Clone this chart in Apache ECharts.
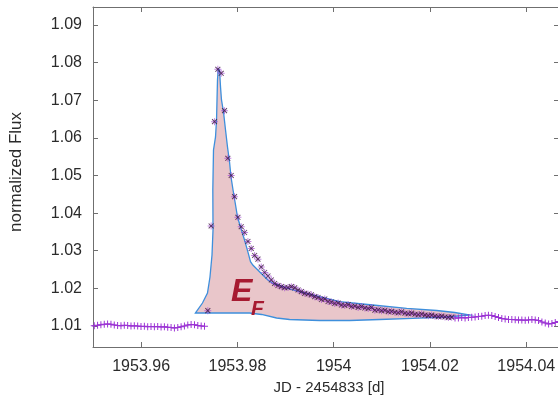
<!DOCTYPE html>
<html>
<head>
<meta charset="utf-8">
<script src="https://cdn.jsdelivr.net/npm/echarts@6/dist/echarts.min.js"></script>
<style>
  html, body { margin: 0; padding: 0; background: #fff; overflow: hidden; }
  #chart { width: 562px; height: 396px; }
</style>
</head>
<body>
<div id="chart"></div>
<script>
// Quiescent light curve before the flare (JD - 2454833, normalized flux)
const preT = [1953.94956, 1953.95026, 1953.95095, 1953.95164, 1953.95234, 1953.95303, 1953.95373, 1953.95442, 1953.95511, 1953.95581,
  1953.95650, 1953.95720, 1953.95789, 1953.95858, 1953.95928, 1953.95997, 1953.96067, 1953.96136, 1953.96205, 1953.96275,
  1953.96344, 1953.96414, 1953.96483, 1953.96552, 1953.96622, 1953.96691, 1953.96761, 1953.96830, 1953.96899, 1953.96969,
  1953.97038, 1953.97108, 1953.97177, 1953.97247, 1953.97316];
const preF = [1.01000, 1.01005, 1.01019, 1.01032, 1.01045, 1.01053, 1.01048, 1.01027, 1.01013, 1.01005,
  1.01019, 1.01013, 1.01000, 1.01005, 1.01000, 1.00987, 1.00992, 1.00981, 1.00987, 1.00979,
  1.00984, 1.00973, 1.00979, 1.00968, 1.00960, 1.00947, 1.00960, 1.00979, 1.01000, 1.01027,
  1.01040, 1.01032, 1.01013, 1.01000, 1.00992];

// Flare points
const flareT = [1953.97385, 1953.97454, 1953.97524, 1953.97593, 1953.97663, 1953.97732, 1953.97801, 1953.97871, 1953.97940, 1953.98010,
  1953.98079, 1953.98148, 1953.98218, 1953.98287, 1953.98357, 1953.98426, 1953.98495, 1953.98565, 1953.98634, 1953.98704,
  1953.98773, 1953.98842, 1953.98912, 1953.98981, 1953.99051, 1953.99120, 1953.99189, 1953.99259, 1953.99328, 1953.99398,
  1953.99467, 1953.99536, 1953.99606, 1953.99675, 1953.99745, 1953.99814, 1953.99883, 1953.99953, 1954.00022, 1954.00092,
  1954.00161, 1954.00230, 1954.00300, 1954.00369, 1954.00439, 1954.00508, 1954.00577, 1954.00647, 1954.00716, 1954.00786,
  1954.00855, 1954.00924, 1954.00994, 1954.01063, 1954.01133, 1954.01202, 1954.01271, 1954.01341, 1954.01410, 1954.01480,
  1954.01549, 1954.01618, 1954.01688, 1954.01757, 1954.01827, 1954.01896, 1954.01965, 1954.02035, 1954.02104, 1954.02174,
  1954.02243, 1954.02312, 1954.02382, 1954.02451];
const flareF = [1.01407, 1.03658, 1.06430, 1.07823, 1.07717, 1.06723, 1.05458, 1.05000, 1.04437, 1.03889,
  1.03639, 1.03485, 1.03246, 1.03060, 1.02874, 1.02776, 1.02568, 1.02422, 1.02329, 1.02223,
  1.02130, 1.02076, 1.02045, 1.02018, 1.02023, 1.02045, 1.02015, 1.01957, 1.01912, 1.01869,
  1.01851, 1.01829, 1.01779, 1.01758, 1.01704, 1.01718, 1.01651, 1.01638, 1.01598, 1.01611,
  1.01558, 1.01545, 1.01571, 1.01518, 1.01532, 1.01492, 1.01518, 1.01478, 1.01465, 1.01492,
  1.01420, 1.01432, 1.01405, 1.01419, 1.01380, 1.01392, 1.01365, 1.01352, 1.01378, 1.01340,
  1.01326, 1.01344, 1.01312, 1.01300, 1.01318, 1.01288, 1.01275, 1.01290, 1.01262, 1.01250,
  1.01262, 1.01240, 1.01228, 1.01235];

// Light curve after the flare
const postT = [1954.02520, 1954.02590, 1954.02659, 1954.02729, 1954.02798, 1954.02867, 1954.02937, 1954.03006, 1954.03076, 1954.03145,
  1954.03214, 1954.03284, 1954.03353, 1954.03423, 1954.03492, 1954.03561, 1954.03631, 1954.03700, 1954.03770, 1954.03839,
  1954.03908, 1954.03978, 1954.04047, 1954.04117, 1954.04186, 1954.04255, 1954.04325, 1954.04394, 1954.04464, 1954.04533,
  1954.04602, 1954.04672];
const postF = [1.01213, 1.01213, 1.01226, 1.01213, 1.01226, 1.01232, 1.01239, 1.01253, 1.01258, 1.01279,
  1.01287, 1.01279, 1.01253, 1.01226, 1.01200, 1.01186, 1.01173, 1.01173, 1.01165, 1.01160,
  1.01160, 1.01152, 1.01160, 1.01173, 1.01160, 1.01147, 1.01107, 1.01080, 1.01054, 1.01067,
  1.01093, 1.01120];

// Outline of the flare energy region E_F (closed polygon)
const envX = [1953.97129, 1953.97274, 1953.97378, 1953.97430, 1953.97472, 1953.97493, 1953.97489, 1953.97503, 1953.97545, 1953.97566,
  1953.97576, 1953.97586, 1953.97601, 1953.97628, 1953.97649, 1953.97669, 1953.97711, 1953.97753, 1953.97794, 1953.97836,
  1953.97867, 1953.97909, 1953.97961, 1953.98002, 1953.98064, 1953.98148, 1953.98216, 1953.98272, 1953.98320, 1953.98424,
  1953.98528, 1953.98632, 1953.98736, 1953.98944, 1953.99152, 1953.99430, 1953.99707, 1954.00123, 1954.00809, 1954.01516,
  1954.02139, 1954.02514, 1954.02825, 1954.02347, 1954.01640, 1954.00954, 1954.00331, 1953.99707, 1953.99083, 1953.98813,
  1953.98501, 1953.98252, 1953.97836, 1953.97420];
const envY = [1.01346, 1.01611, 1.01877, 1.02302, 1.02887, 1.03552, 1.04615, 1.05678, 1.06024, 1.06476,
  1.07007, 1.07539, 1.07831, 1.07805, 1.07353, 1.07007, 1.06688, 1.06210, 1.05758, 1.05359,
  1.04960, 1.04615, 1.04216, 1.03897, 1.03631, 1.03286, 1.02975, 1.02709, 1.02621, 1.02489,
  1.02356, 1.02223, 1.02135, 1.02045, 1.01957, 1.01869, 1.01779, 1.01646, 1.01558, 1.01470,
  1.01412, 1.01359, 1.01292, 1.01239, 1.01205, 1.01173, 1.01146, 1.01146, 1.01173, 1.01213,
  1.01306, 1.01346, 1.01346, 1.01346];

const xRange = [1953.95, 1954.0468];
const yRange = [1.00442, 1.09478];

const zip = (a, b) => a.map((v, i) => [v, b[i]]);
const PLUS = 'path://M0,4.3H10V5.7H0Z M4.3,0H5.7V10H4.3Z';
const purple = '#9b33d4';
const dark = '#3a1240';
const frame = '#6f6f6f';
const textColor = '#2b2b2b';
const fontFamily = '"Liberation Sans", Arial, Helvetica, sans-serif';
const fmt = v => String(Math.round(v * 100) / 100);

const chart = echarts.init(document.getElementById('chart'), null, { renderer: 'canvas' });

function axisBase(extra) {
  return Object.assign({
    type: 'value',
    axisLine: { show: true, onZero: false, lineStyle: { color: frame, width: 1 } },
    axisTick: { show: true, inside: true, length: 5, lineStyle: { color: frame, width: 1 } },
    splitLine: { show: false },
    axisLabel: { show: false }
  }, extra);
}

const tickLabel = {
  show: true, color: textColor, fontSize: 16, fontFamily: fontFamily,
  showMinLabel: false, showMaxLabel: false, formatter: fmt
};

chart.setOption({
  animation: false,
  backgroundColor: '#ffffff',
  grid: { left: 93, top: 7, width: 466, height: 340, containLabel: false, outerBoundsMode: 'none' },
  xAxis: [
    axisBase({
      position: 'bottom', min: xRange[0], max: xRange[1], splitNumber: 5,
      axisLabel: Object.assign({ margin: 12 }, tickLabel),
      name: 'JD - 2454833 [d]', nameLocation: 'middle', nameGap: 27,
      nameTextStyle: { color: textColor, fontSize: 15, fontFamily: fontFamily, padding: [0, 0, 0, 6] }
    }),
    axisBase({ position: 'top', min: xRange[0], max: xRange[1], splitNumber: 5 })
  ],
  yAxis: [
    axisBase({
      position: 'left', min: yRange[0], max: yRange[1], splitNumber: 9,
      axisLabel: Object.assign({ margin: 11 }, tickLabel),
      name: 'normalized Flux', nameLocation: 'middle', nameGap: 68,
      nameTextStyle: { color: textColor, fontSize: 17, fontFamily: fontFamily, padding: [0, 0, 0, 10] }
    }),
    axisBase({ position: 'right', min: yRange[0], max: yRange[1], splitNumber: 9 })
  ],
  series: [
    {
      type: 'custom',
      name: 'E_F region',
      data: [[envX[0], envY[0]]],
      z: 1,
      renderItem: function (params, api) {
        const pts = envX.map((x, i) => api.coord([x, envY[i]]));
        return {
          type: 'polygon',
          shape: { points: pts },
          style: { fill: '#e9c6ca', stroke: '#3e8fdc', lineWidth: 1.3 }
        };
      }
    },
    {
      type: 'line', name: 'pre', data: zip(preT, preF), z: 3,
      lineStyle: { color: purple, width: 1 },
      itemStyle: { color: purple },
      symbol: PLUS, symbolSize: 7, showAllSymbol: true
    },
    {
      type: 'line', name: 'post', data: zip(postT, postF), z: 3,
      lineStyle: { color: purple, width: 1 },
      itemStyle: { color: purple },
      symbol: PLUS, symbolSize: 7, showAllSymbol: true
    },
    {
      type: 'scatter', name: 'flare+', data: zip(flareT, flareF), z: 4,
      itemStyle: { color: purple, opacity: 0.6 },
      symbol: PLUS, symbolSize: 7
    },
    {
      type: 'scatter', name: 'flare', data: zip(flareT, flareF), z: 5,
      itemStyle: { color: dark },
      symbol: PLUS, symbolSize: 7, symbolRotate: 45
    }
  ],
  graphic: [
    {
      type: 'text', left: 231, top: 276, z: 10,
      style: { text: 'E', fill: '#a61a31', font: 'italic bold 32px ' + fontFamily }
    },
    {
      type: 'text', left: 251, top: 299, z: 10,
      style: { text: 'F', fill: '#a61a31', font: 'italic bold 21px ' + fontFamily }
    }
  ]
});
</script>
</body>
</html>
